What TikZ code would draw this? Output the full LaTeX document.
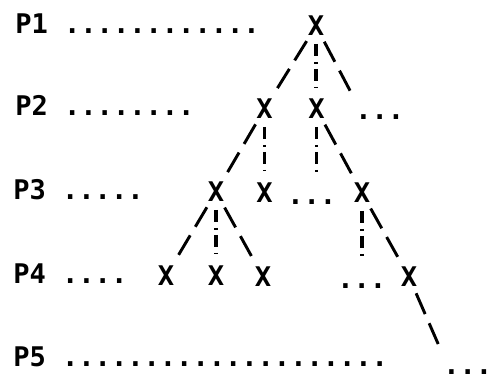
\documentclass[tikz,border=0pt]{standalone}
\usepackage{fontspec}
\newfontfamily\plotfont{DejaVu Sans Mono}
\usetikzlibrary{positioning}

\begin{document}
\begin{tikzpicture}[x=0.75pt, y=-0.75pt,
  font=\plotfont\bfseries\fontsize{20.3}{24}\selectfont,
  row/.style={anchor=base west, inner sep=0pt},
  xmark/.style={circle, inner sep=2.5pt},
  more/.style={anchor=base west, inner sep=0pt, text height=14pt},
  branch/.style={draw, line width=2.2pt, dash pattern=on 17pt off 7.5pt},
  firstkid/.style={draw, line width=2.4pt, shorten >=3pt,
                dash pattern=on 9pt off 4.5pt on 1.8pt off 3.6pt}]
\useasboundingbox (0,0) rectangle (492,379);
% Level labels with their dotted leaders.
\node[row] (p1) at (15,33) {P1 ............};
\node[row] (p2) at (15,115) {P2 ........};
\node[row] (p3) at (13,199) {P3 .....};
\node[row] (p4) at (13,283) {P4 ....};
\node[row] (p5) at (13,366) {P5 ....................};
% The tree: one mark per level, elided siblings as dots.
\node[xmark] (x1) at (316,26) {X};
\node[xmark] (x21) at (264.5,109) {X};
\node[xmark] (x22) at (316.5,109) {X};
\node[more] (more2) at (355,119) {...};
\node[xmark] (x31) at (216,192) {X};
\node[xmark] (x32) at (264.5,193) {X};
\node[more] (more3) at (287,204) {...};
\node[xmark] (x33) at (362,193) {X};
\node[xmark] (x41) at (166,276) {X};
\node[xmark] (x42) at (216,276) {X};
\node[xmark] (x43) at (263,277) {X};
\node[more] (more4) at (337,288) {...};
\node[xmark] (x44) at (409,277) {X};
\node[more] (more5) at (443,374) {...};
% Dashed: other branches; dash-dot: the first child.
\draw[branch] (x1) -- (x21);
\draw[firstkid] (x1) -- (x1 |- x22.north);
\draw[branch, shorten >=4pt] (x1) -- (more2.north west);
\draw[branch] (x21) -- (x31);
\draw[firstkid] (x21) -- (x21 |- x32.north);
\draw[firstkid, shorten >=8pt] (x22) -- (x22 |- more3.north);
\draw[branch] (x22) -- (x33);
\draw[branch] (x31) -- (x41);
\draw[firstkid] (x31) -- (x31 |- x42.north);
\draw[branch] (x31) -- (x43);
\draw[firstkid, shorten >=8pt] (x33) -- (x33 |- more4.north);
\draw[branch] (x33) -- (x44);
\draw[branch, shorten >=8pt] (x44) -- (more5.north west);
\end{tikzpicture}
\end{document}
